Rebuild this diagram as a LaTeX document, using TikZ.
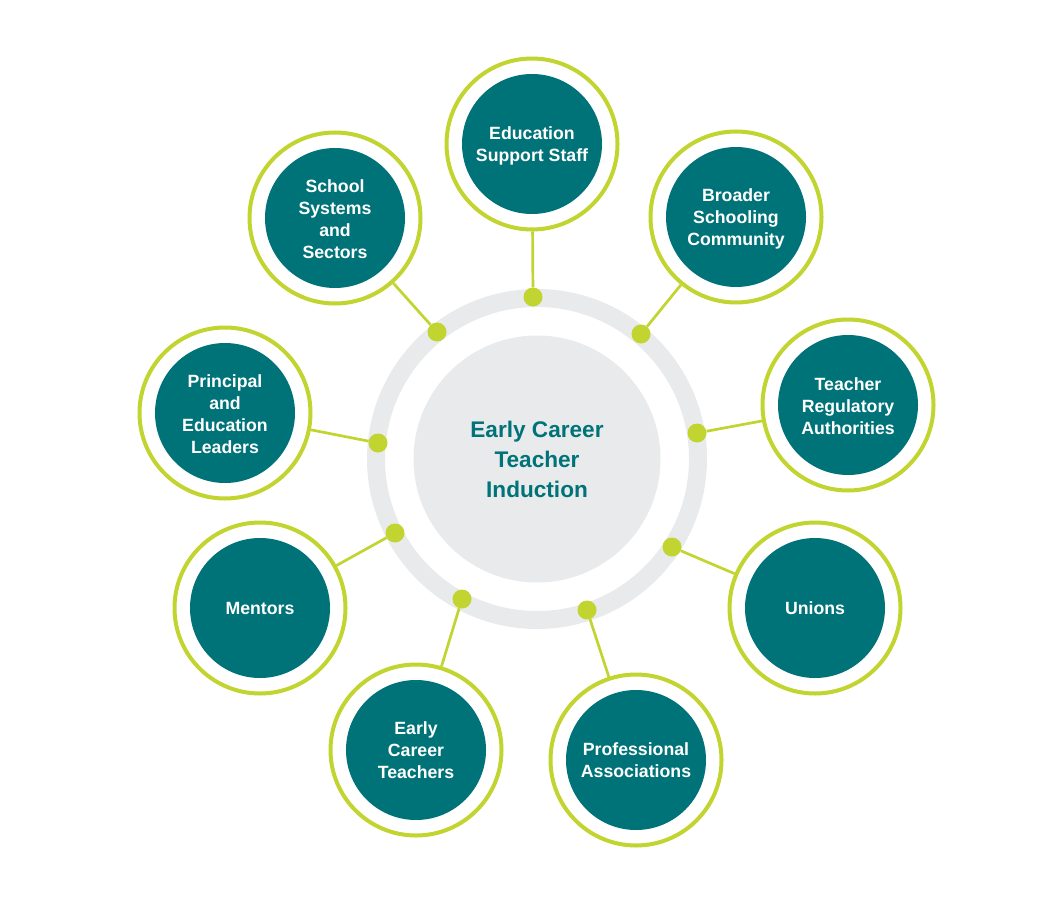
\documentclass[tikz,border=0pt]{standalone}
\usepackage{fontspec}
\setmainfont{Liberation Sans}
\definecolor{teal}{RGB}{0,115,121}
\definecolor{lime}{RGB}{194,212,48}
\definecolor{ringgray}{RGB}{233,234,236}
\tikzset{
  hubring/.style={draw=ringgray, line width=18pt},
  hub/.style={circle, fill=ringgray, minimum size=247pt, inner sep=0pt, text=teal,
    font=\bfseries\fontsize{22.6}{30}\selectfont, align=center},
  dot/.style={circle, fill=lime, minimum size=19pt, inner sep=0pt},
  satring/.style={circle, draw=lime, line width=4pt, fill=white, minimum size=171pt, inner sep=0pt},
  satdisc/.style={circle, fill=teal, minimum size=140pt, inner sep=0pt},
  sattext/.style={inner sep=0pt, text=white,
    font=\bfseries\fontsize{17.7}{21.8}\selectfont, align=center},
  conn/.style={draw=lime, line width=2.7pt}
}
\begin{document}
\begin{tikzpicture}[x=1pt,y=-1pt]
\useasboundingbox (0,0) rectangle (1064,896);
% hub
\coordinate (c) at (537,459);
\draw[hubring] (c) circle[radius=161];
\node[hub] (hubnode) at (c) {Early Career\\Teacher\\Induction};
% dots
\node[dot] (d1) at (533,297) {};
\node[dot] (d2) at (641,334) {};
\node[dot] (d3) at (697,433) {};
\node[dot] (d4) at (672,547) {};
\node[dot] (d5) at (587,610) {};
\node[dot] (d6) at (462,599) {};
\node[dot] (d7) at (395,533) {};
\node[dot] (d8) at (378,443) {};
\node[dot] (d9) at (437,332) {};
% satellite rings
\node[satring] (r1) at (532,144) {};
\node[satring] (r2) at (736,217) {};
\node[satring] (r3) at (848,405) {};
\node[satring] (r4) at (815,608) {};
\node[satring] (r5) at (636,760) {};
\node[satring] (r6) at (416,750) {};
\node[satring] (r7) at (260,608) {};
\node[satring] (r8) at (225,413) {};
\node[satring] (r9) at (335,218) {};
% discs
\foreach \i in {1,...,9} {
  \node[satdisc] (s\i) at (r\i) {};
}
% labels
\node[sattext] (t1) at ([yshift=-2pt]s1.center) {Education\\Support Staff};
\node[sattext] (t2) at ([yshift=-2pt]s2.center) {Broader\\Schooling\\Community};
\node[sattext] (t3) at ([yshift=-1pt]s3.center) {Teacher\\Regulatory\\Authorities};
\node[sattext] (t4) at ([yshift=0pt]s4.center) {Unions};
\node[sattext] (t5) at ([yshift=0pt]s5.center) {Professional\\Associations};
\node[sattext] (t6) at ([yshift=0pt]s6.center) {Early\\Career\\Teachers};
\node[sattext] (t7) at ([yshift=0pt]s7.center) {Mentors};
\node[sattext] (t8) at ([yshift=-1pt]s8.center) {Principal\\and\\Education\\Leaders};
\node[sattext] (t9) at ([yshift=-1pt]s9.center) {School\\Systems\\and\\Sectors};
% connectors
\foreach \i in {1,...,9} {
  \draw[conn] (d\i) -- (r\i);
}
\end{tikzpicture}
\end{document}
